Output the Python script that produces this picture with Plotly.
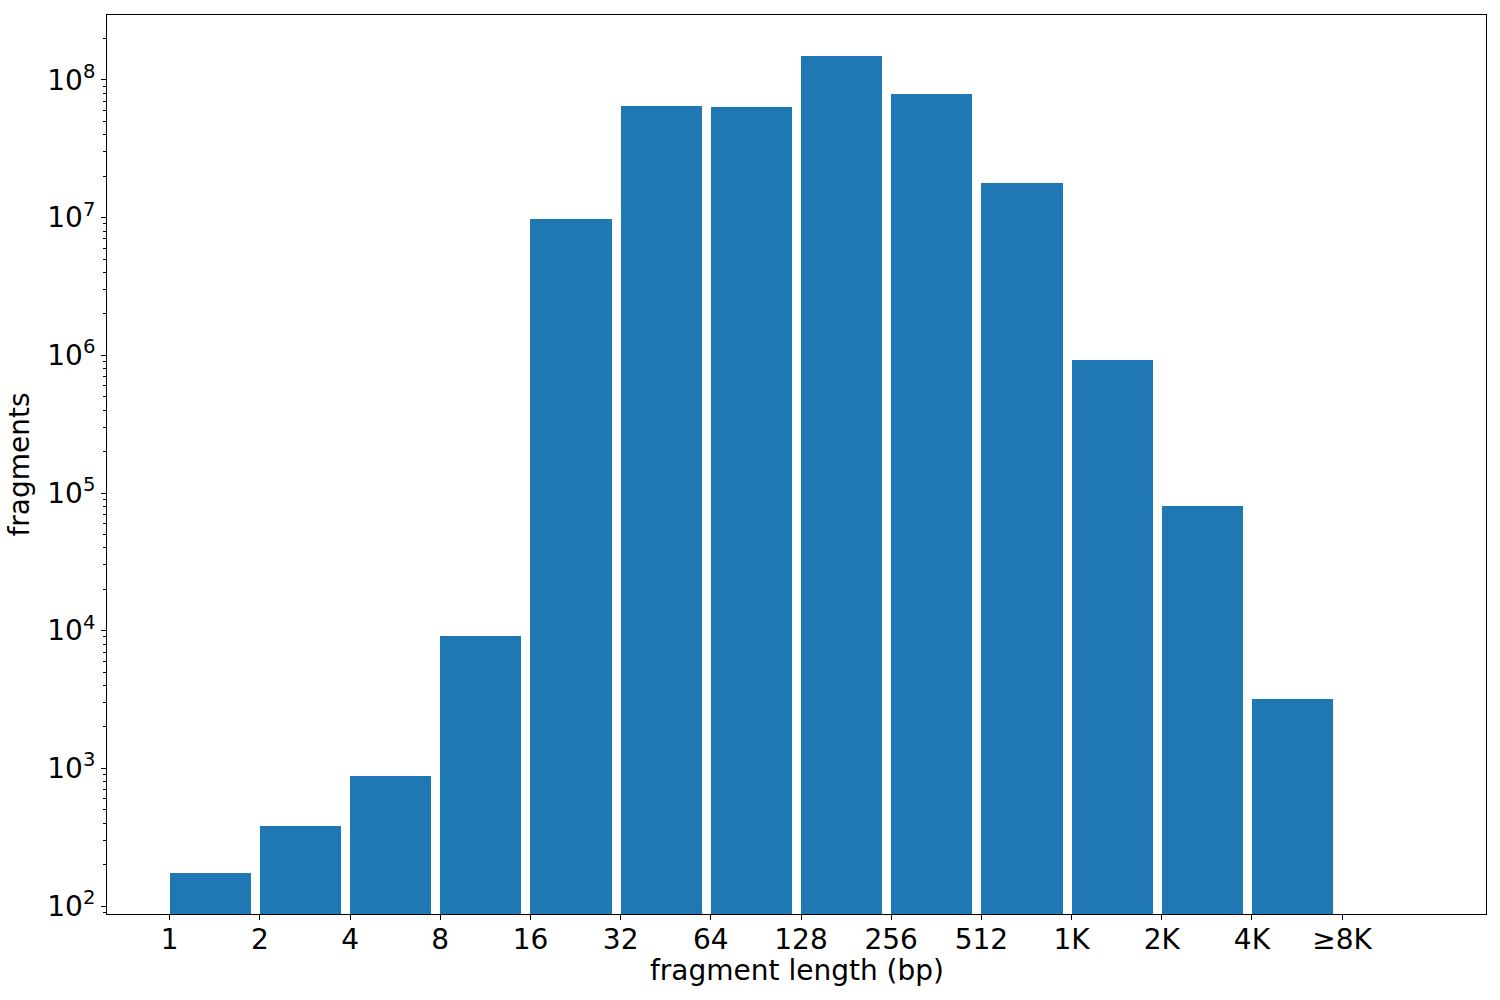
import plotly.graph_objects as go

# ---- data ----
tick_labels = ["1", "2", "4", "8", "16", "32", "64", "128", "256", "512", "1K", "2K", "4K", "\u22658K"]
fragment_counts = [174, 381, 879, 9200, 9.7e6, 6.47e7, 6.37e7, 1.49e8, 7.91e7, 1.80e7, 9.25e5, 8.09e4, 3185, None]
bar_positions = list(range(len(tick_labels)))

BLUE = "#1f77b4"
FONT = "DejaVu Sans"

fig = go.Figure()
fig.add_trace(go.Bar(
    x=bar_positions,
    y=fragment_counts,
    width=0.9,
    offset=0,
    marker=dict(color=BLUE, line=dict(width=0)),
    showlegend=False,
))

major_vals = [10 ** k for k in range(2, 9)]
major_text = ["10<sup>%d</sup>" % k for k in range(2, 9)]
minor_vals = [m * 10 ** k for k in range(1, 9) for m in range(2, 10)]

fig.update_layout(
    width=1500, height=1000,
    margin=dict(l=107, r=14, t=15, b=86),
    paper_bgcolor="white", plot_bgcolor="white",
    font=dict(family=FONT, size=28, color="black"),
    bargap=0,
)
fig.update_xaxes(
    range=[-0.695, 14.595],
    tickmode="array", tickvals=bar_positions, ticktext=tick_labels,
    ticks="outside", ticklen=5, tickwidth=1, tickcolor="black",
    ticklabelstandoff=-5,
    showline=True, linecolor="black", linewidth=1, mirror=True,
    showgrid=False, zeroline=False,
    tickfont=dict(size=28),
)
fig.update_yaxes(
    type="log",
    range=[1.942, 8.472],
    tickmode="array", tickvals=major_vals, ticktext=major_text,
    ticks="outside", ticklen=5, tickwidth=1, tickcolor="black",
    minor=dict(tickmode="array", tickvals=minor_vals, ticks="outside",
               ticklen=3, tickwidth=1, tickcolor="black", showgrid=False),
    showline=True, linecolor="black", linewidth=1, mirror=True,
    showgrid=False, zeroline=False,
    title=dict(text="fragments", standoff=9, font=dict(size=28)),
    tickfont=dict(size=28),
)
fig.add_annotation(
    text="fragment length (bp)", xref="paper", yref="paper",
    x=0.5, y=-0.063, xanchor="center", yanchor="middle",
    showarrow=False, font=dict(size=28, family=FONT, color="black"),
)

fig.write_html("out.html", config={"displayModeBar": False},
               post_script="document.body.style.margin='0';document.body.style.padding='0';")
